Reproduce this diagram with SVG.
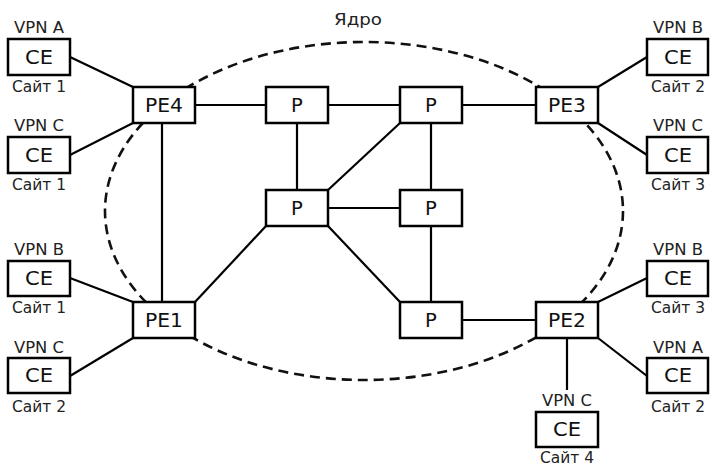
<svg xmlns="http://www.w3.org/2000/svg" width="710" height="467" viewBox="0 0 710 467">
<style>
.box{fill:#fff;stroke:#000;stroke-width:2.5}
.lbl{font-family:"DejaVu Sans","Liberation Sans",sans-serif;font-size:19.5px;fill:#111;text-anchor:middle}
.sm{font-family:"DejaVu Sans","Liberation Sans",sans-serif;font-size:15px;fill:#222;text-anchor:middle}
.ln{stroke:#000;stroke-width:2.2;fill:none}
.core{fill:none;stroke:#111;stroke-width:2.6;stroke-dasharray:10 6}
</style>
<rect width="710" height="467" fill="#fff"/>
<g id="core">
<ellipse class="core" cx="364" cy="211" rx="259" ry="169"/>
<text class="sm" x="358" y="25" font-size="16" textLength="48" lengthAdjust="spacingAndGlyphs">Ядро</text>
</g>
<g id="connectors">
<line class="ln" x1="70" y1="57" x2="133" y2="87"/>
<line class="ln" x1="70" y1="155" x2="133" y2="123"/>
<line class="ln" x1="70" y1="278" x2="133" y2="302"/>
<line class="ln" x1="70" y1="376" x2="133" y2="338"/>
<line class="ln" x1="598" y1="87" x2="647" y2="57"/>
<line class="ln" x1="598" y1="123" x2="647" y2="155"/>
<line class="ln" x1="598" y1="302" x2="647" y2="278"/>
<line class="ln" x1="598" y1="338" x2="647" y2="376"/>
<line class="ln" x1="567" y1="338" x2="567" y2="390"/>
<line class="ln" x1="195" y1="105" x2="266" y2="105"/>
<line class="ln" x1="328" y1="105" x2="400" y2="105"/>
<line class="ln" x1="462" y1="105" x2="536" y2="105"/>
<line class="ln" x1="162" y1="123" x2="162" y2="302"/>
<line class="ln" x1="297" y1="123" x2="297" y2="190"/>
<line class="ln" x1="400" y1="123" x2="328" y2="190"/>
<line class="ln" x1="431" y1="123" x2="431" y2="190"/>
<line class="ln" x1="328" y1="208" x2="400" y2="208"/>
<line class="ln" x1="328" y1="226" x2="400" y2="302"/>
<line class="ln" x1="431" y1="226" x2="431" y2="302"/>
<line class="ln" x1="266" y1="226" x2="195" y2="302"/>
<line class="ln" x1="462" y1="320" x2="536" y2="320"/>
</g>
<g id="PE4"><rect class="box" x="133" y="87" width="62" height="36"/><text class="lbl" x="164" y="112" textLength="38" lengthAdjust="spacingAndGlyphs">PE4</text></g>
<g id="PE3"><rect class="box" x="536" y="87" width="62" height="36"/><text class="lbl" x="567" y="112" textLength="38" lengthAdjust="spacingAndGlyphs">PE3</text></g>
<g id="PE1"><rect class="box" x="133" y="302" width="62" height="36"/><text class="lbl" x="164" y="327" textLength="38" lengthAdjust="spacingAndGlyphs">PE1</text></g>
<g id="PE2"><rect class="box" x="536" y="302" width="62" height="36"/><text class="lbl" x="567" y="327" textLength="38" lengthAdjust="spacingAndGlyphs">PE2</text></g>
<g id="P1"><rect class="box" x="266" y="87" width="62" height="36"/><text class="lbl" x="297" y="112">P</text></g>
<g id="P2"><rect class="box" x="400" y="87" width="62" height="36"/><text class="lbl" x="431" y="112">P</text></g>
<g id="P3"><rect class="box" x="266" y="190" width="62" height="36"/><text class="lbl" x="297" y="215">P</text></g>
<g id="P4"><rect class="box" x="400" y="190" width="62" height="36"/><text class="lbl" x="431" y="215">P</text></g>
<g id="P5"><rect class="box" x="400" y="302" width="62" height="36"/><text class="lbl" x="431" y="327">P</text></g>
<g id="CE-A-1"><text class="sm" x="39" y="33" textLength="50" lengthAdjust="spacingAndGlyphs">VPN A</text><rect class="box" x="8" y="39" width="62" height="36"/><text class="lbl" x="39" y="64" textLength="28" lengthAdjust="spacingAndGlyphs">CE</text><text class="sm" x="39" y="92" textLength="54" lengthAdjust="spacingAndGlyphs">Сайт 1</text></g>
<g id="CE-C-1"><text class="sm" x="39" y="131" textLength="50" lengthAdjust="spacingAndGlyphs">VPN C</text><rect class="box" x="8" y="137" width="62" height="36"/><text class="lbl" x="39" y="162" textLength="28" lengthAdjust="spacingAndGlyphs">CE</text><text class="sm" x="39" y="190" textLength="54" lengthAdjust="spacingAndGlyphs">Сайт 1</text></g>
<g id="CE-B-1"><text class="sm" x="39" y="255" textLength="50" lengthAdjust="spacingAndGlyphs">VPN B</text><rect class="box" x="8" y="261" width="62" height="35"/><text class="lbl" x="39" y="285" textLength="28" lengthAdjust="spacingAndGlyphs">CE</text><text class="sm" x="39" y="313" textLength="54" lengthAdjust="spacingAndGlyphs">Сайт 1</text></g>
<g id="CE-C-2"><text class="sm" x="39" y="353" textLength="50" lengthAdjust="spacingAndGlyphs">VPN C</text><rect class="box" x="8" y="358" width="62" height="35"/><text class="lbl" x="39" y="382" textLength="28" lengthAdjust="spacingAndGlyphs">CE</text><text class="sm" x="39" y="412" textLength="54" lengthAdjust="spacingAndGlyphs">Сайт 2</text></g>
<g id="CE-B-2"><text class="sm" x="678" y="33" textLength="50" lengthAdjust="spacingAndGlyphs">VPN B</text><rect class="box" x="647" y="39" width="61" height="36"/><text class="lbl" x="678" y="64" textLength="28" lengthAdjust="spacingAndGlyphs">CE</text><text class="sm" x="678" y="92" textLength="54" lengthAdjust="spacingAndGlyphs">Сайт 2</text></g>
<g id="CE-C-3"><text class="sm" x="678" y="131" textLength="50" lengthAdjust="spacingAndGlyphs">VPN C</text><rect class="box" x="647" y="137" width="61" height="36"/><text class="lbl" x="678" y="162" textLength="28" lengthAdjust="spacingAndGlyphs">CE</text><text class="sm" x="678" y="190" textLength="54" lengthAdjust="spacingAndGlyphs">Сайт 3</text></g>
<g id="CE-B-3"><text class="sm" x="678" y="255" textLength="50" lengthAdjust="spacingAndGlyphs">VPN B</text><rect class="box" x="647" y="261" width="61" height="35"/><text class="lbl" x="678" y="285" textLength="28" lengthAdjust="spacingAndGlyphs">CE</text><text class="sm" x="678" y="313" textLength="54" lengthAdjust="spacingAndGlyphs">Сайт 3</text></g>
<g id="CE-A-2"><text class="sm" x="678" y="353" textLength="50" lengthAdjust="spacingAndGlyphs">VPN A</text><rect class="box" x="647" y="358" width="61" height="35"/><text class="lbl" x="678" y="382" textLength="28" lengthAdjust="spacingAndGlyphs">CE</text><text class="sm" x="678" y="412" textLength="54" lengthAdjust="spacingAndGlyphs">Сайт 2</text></g>
<g id="CE-C-4"><text class="sm" x="567" y="406" textLength="50" lengthAdjust="spacingAndGlyphs">VPN C</text><rect class="box" x="536" y="412" width="62" height="35"/><text class="lbl" x="567" y="436" textLength="28" lengthAdjust="spacingAndGlyphs">CE</text><text class="sm" x="567" y="463" textLength="54" lengthAdjust="spacingAndGlyphs">Сайт 4</text></g>
</svg>
